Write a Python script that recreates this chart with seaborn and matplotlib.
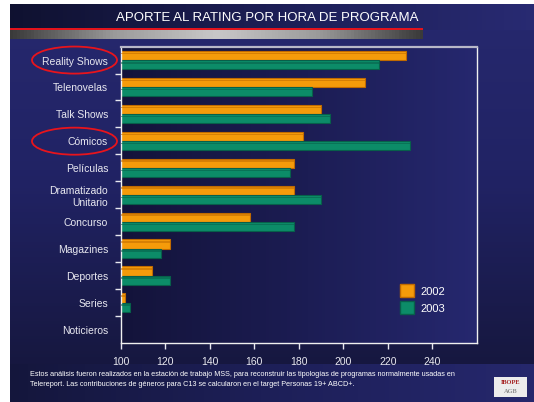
import numpy as np
import pandas as pd
import matplotlib
matplotlib.use("Agg")
import matplotlib.pyplot as plt
import seaborn as sns
from matplotlib.patches import Ellipse, Rectangle
from matplotlib.colors import LinearSegmentedColormap

# ---------------- data ----------------
categories = ["Reality Shows", "Telenovelas", "Talk Shows", "Cómicos", "Películas",
              "Dramatizado\nUnitario", "Concurso", "Magazines", "Deportes", "Series", "Noticieros"]
values_2002 = [228, 210, 190, 182, 178, 178, 158, 122, 114, 102, np.nan]
values_2003 = [216, 186, 194, 230, 176, 190, 178, 118, 122, 104, np.nan]
series_names = ["2002", "2003"]
x_ticks = [100, 120, 140, 160, 180, 200, 220, 240]
title = "APORTE AL RATING POR HORA DE PROGRAMA"
footnote = ("Estos análisis fueron realizados en la estación de trabajo MSS, para reconstruir las tipologías de programas normalmente usadas en\n"
            "Telereport. Las contribuciones de géneros para C13 se calcularon en el target Personas 19+ ABCD+.")

df = pd.DataFrame({
    "Género": categories * 2,
    "Año": [series_names[0]] * len(categories) + [series_names[1]] * len(categories),
    "Valor": values_2002 + values_2003,
})

sns.set_theme(style="white")
plt.rcParams["font.family"] = ["Liberation Sans", "DejaVu Sans"]

W, H = 534, 402
NAVY = "#1f2158"
fig = plt.figure(figsize=(W / 100, 4.025), dpi=100)
fig.patch.set_facecolor(NAVY)

# ---------------- background ----------------
bg = fig.add_axes([0, 0, 1, 1], zorder=0)
bg.axis("off")
bg.set_xlim(0, W)
bg.set_ylim(H, 0)

def grad(ax, x0, x1, y0, y1, colors, z=0, vertical=False, n=120):
    cmap = LinearSegmentedColormap.from_list("g", colors)
    for i in range(n):
        t = i / (n - 1)
        if vertical:
            h = (y1 - y0) / n
            r = Rectangle((x0, y0 + i * h), x1 - x0, h * 1.05)
        else:
            w = (x1 - x0) / n
            r = Rectangle((x0 + i * w, y0), w * 1.05, y1 - y0)
        r.set_facecolor(cmap(t))
        r.set_edgecolor("none")
        r.set_zorder(z)
        ax.add_patch(r)

# slide body (vertical gradient: lighter top, darker bottom)
grad(bg, 10, W + 5, 4, 366, ["#26286e", "#202263", "#16173f"], z=0, vertical=True)
# title band
grad(bg, 10, W + 5, 4, 30, ["#0f1130", "#1c1e55", "#282a72"], z=1)
# grey bar with red line
grad(bg, 10, 423, 30, 39, ["#3a3a3a", "#9a9a9a", "#c8c8c8", "#9a9a9a", "#3a3a3a"], z=1)
bg.plot([10, 423], [29.5, 29.5], color="#e8141c", lw=1.4, zorder=2, solid_capstyle="butt")
# footnote band
grad(bg, 10, W + 5, 364, H + 5, ["#14163c", "#1d1f58", "#25276c"], z=1)
# plot area background
px0, px1, py0, py1 = 120.7, 476.7, 47, 343
grad(bg, px0, px1, py0, py1, ["#13133a", "#1b1c52", "#25276e"], z=1)
# white page margins (left and top)
bg.add_patch(Rectangle((-5, -5), 15, H + 15, facecolor="white", edgecolor="none", zorder=2))
bg.add_patch(Rectangle((-5, -5), W + 15, 9, facecolor="white", edgecolor="none", zorder=2))

bg.set_xlim(0, W)
bg.set_ylim(H, 0)

bg.text(267, 18, title, color="white", fontsize=9.5, ha="center", va="center", zorder=3)

# red ellipses
for cy in [60.5, 141.5]:
    bg.add_patch(Ellipse((74.5, cy), 85, 27, fill=False, edgecolor="#e8141c", lw=1.3, zorder=3))

# footnote
bg.text(30, 379, footnote, color="white", fontsize=5.2, ha="left", va="center",
        linespacing=1.5, zorder=3)

# logo
bg.add_patch(Rectangle((494, 377), 33, 20, facecolor="#ececec", edgecolor="none", zorder=3))
bg.text(510.5, 382.5, "IBOPE", color="#a31c1c", fontsize=4.6, fontweight="bold",
        family=["Liberation Serif", "DejaVu Serif"], ha="center", va="center", zorder=4)
bg.text(510.5, 391.5, "AGB", color="#8a8a8a", fontsize=4.6, fontweight="bold",
        family=["Liberation Serif", "DejaVu Serif"], ha="center", va="center", zorder=4)

# ---------------- chart ----------------
ax = fig.add_axes([px0 / W, 1 - py1 / H, (px1 - px0) / W, (py1 - py0) / H], zorder=2)
ax.patch.set_alpha(0)

palette = {"2002": "#f59b0a", "2003": "#0c8c68"}
sns.barplot(data=df, y="Género", x="Valor", hue="Año", hue_order=series_names,
            order=categories, palette=palette, orient="h", width=0.68,
            saturation=1, errorbar=None, ax=ax, legend=True)

edge = {"2002": "#c06a00", "2003": "#07604a"}
for cont, name in zip(ax.containers, series_names):
    for bar in cont:
        bar.set_edgecolor(edge[name])
        bar.set_linewidth(0.8)
        x, y = bar.get_x(), bar.get_y()
        w, h = bar.get_width(), bar.get_height()
        if np.isfinite(w) and w > 0:
            ax.add_patch(Rectangle((x, y + h * 0.2), w, h * 0.18,
                                   facecolor=edge[name], alpha=0.55, lw=0, zorder=3))

ax.set_xlim(100, 260)
ax.set_xticks(x_ticks)
ax.set_xlabel("")
ax.set_ylabel("")
ax.set_ylim(len(categories) - 0.5, -0.5)

ax.tick_params(axis="x", colors="#e8e8f0", labelsize=7.5, length=4, width=1,
               direction="out", pad=6, bottom=True)
ax.tick_params(axis="y", which="major", colors="#e8e8f0", labelsize=7.5, length=0, pad=9)
ax.yaxis.set_minor_locator(matplotlib.ticker.FixedLocator(np.arange(0.5, len(categories) - 1, 1)))
ax.tick_params(axis="y", which="minor", left=True, length=4, width=1, color="#e8e8f0",
               direction="out")

for side in ["left", "bottom", "right"]:
    ax.spines[side].set_visible(True)
    ax.spines[side].set_color("#f0f0f0")
    ax.spines[side].set_linewidth(1)
ax.spines["top"].set_visible(True)
ax.spines["top"].set_color("#b8b8c8")
ax.spines["top"].set_linewidth(1.6)

leg = ax.legend(loc="upper left", bbox_to_anchor=(390, 274), bbox_transform=bg.transData,
                frameon=False, fontsize=8, handlelength=1.3, handleheight=1.5,
                handletextpad=0.5, labelspacing=0.3, title=None)
for t in leg.get_texts():
    t.set_color("white")
for hnd, name in zip(leg.legend_handles, series_names):
    hnd.set_edgecolor(edge[name])

fig.savefig("out.png", dpi=100, facecolor=NAVY)
